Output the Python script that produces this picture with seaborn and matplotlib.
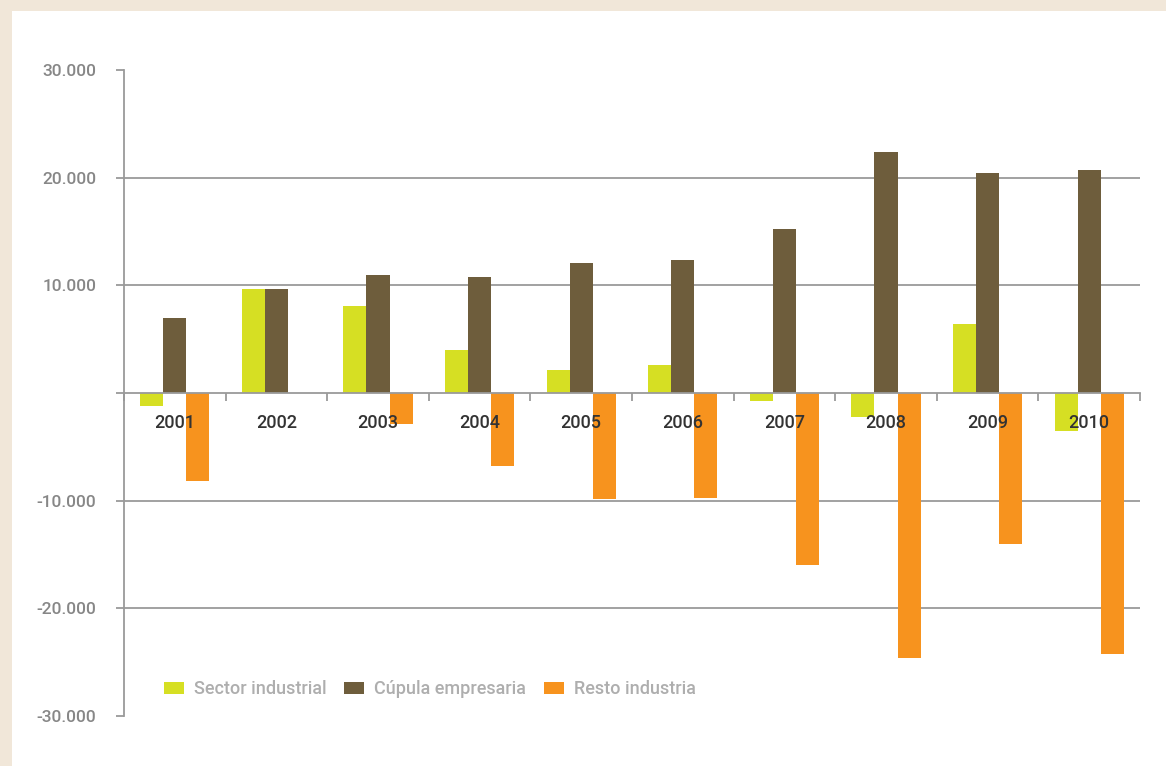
import matplotlib
matplotlib.use("Agg")
import matplotlib.pyplot as plt
import seaborn as sns
import pandas as pd
import numpy as np
from matplotlib.patches import Rectangle
from matplotlib.ticker import FuncFormatter

years = ["2001", "2002", "2003", "2004", "2005", "2006", "2007", "2008", "2009", "2010"]
sector_industrial = [-1200, 9650, 8100, 4000, 2150, 2600, -750, -2200, 6400, -3500]
cupula_empresaria = [7000, 9650, 10950, 10800, 12050, 12350, 15250, 22400, 20450, 20700]
resto_industria = [-8150, 0, -2900, -6800, -9850, -9750, -15950, -24600, -14000, -24200]
series_names = ["Sector industrial", "Cúpula empresaria", "Resto industria"]
colors = ["#D6DF23", "#6E5D3C", "#F7931E"]

df = pd.DataFrame({
    "year": years * 3,
    "serie": [series_names[0]] * 10 + [series_names[1]] * 10 + [series_names[2]] * 10,
    "value": sector_industrial + cupula_empresaria + resto_industria,
})

sns.set_theme(style="white")
plt.rcParams["font.family"] = ["Roboto", "DejaVu Sans"]

fig = plt.figure(figsize=(11.66, 7.66), dpi=100)
fig.patch.set_facecolor("#F1E7D9")
fig.patches.append(Rectangle((12 / 1166, 0), 1, 1 - 11 / 766, transform=fig.transFigure,
                             facecolor="white", edgecolor="none", zorder=-10))

ax = fig.add_axes([124 / 1166, 1 - 716 / 766, (1140 - 124) / 1166, (716 - 70) / 766])
ax.set_facecolor("none")
ax.set_zorder(5)

sns.barplot(data=df, x="year", y="value", hue="serie", palette=colors, width=0.68,
            gap=0, saturation=1, ax=ax, legend=True, errorbar=None, linewidth=0)

ax.set_axisbelow(False)
grid_c = "#9A9A9A"
for yv in [-20000, -10000, 10000, 20000]:
    ax.axhline(yv, color=grid_c, lw=1.3, zorder=0.5)

ax.set_ylim(-30000, 30000)
ax.set_xlim(-0.5, 9.5)
ax.set_yticks([-30000, -20000, -10000, 0, 10000, 20000, 30000])
ax.yaxis.set_major_formatter(FuncFormatter(lambda v, p: "" if v == 0 else f"{int(v):,}".replace(",", ".")))
ax.tick_params(axis="y", direction="out", length=6, width=1.3, color=grid_c,
               labelcolor="#878787", labelsize=12.5, pad=14, left=True)
for lab in ax.get_yticklabels():
    lab.set_fontweight("medium")

for s in ["top", "right"]:
    ax.spines[s].set_visible(False)
ax.spines["left"].set_color(grid_c)
ax.spines["left"].set_linewidth(1.3)
ax.spines["bottom"].set_position(("data", 0))
ax.spines["bottom"].set_color(grid_c)
ax.spines["bottom"].set_linewidth(1.3)

ax.set_xticks(range(10))
ax.set_xticklabels(years, fontweight="medium")
ax.set_xticks(np.arange(-0.5, 10, 1), minor=True)
ax.tick_params(axis="x", which="major", length=0, labelsize=13, labelcolor="#333333", pad=15)
ax.tick_params(axis="x", which="minor", direction="out", length=6, width=1.3, color=grid_c, bottom=True)
ax.set_xlabel("")
ax.set_ylabel("")

leg = ax.legend(loc="lower left", bbox_to_anchor=(0.032, 0.016), ncol=3, frameon=False,
                prop={"size": 13, "weight": "medium"}, handlelength=1.1, handleheight=0.7,
                handletextpad=0.55, columnspacing=1.0, borderaxespad=0)
for t in leg.get_texts():
    t.set_color("#AEAEAE")

fig.savefig("out.png", dpi=100, facecolor=fig.get_facecolor())
